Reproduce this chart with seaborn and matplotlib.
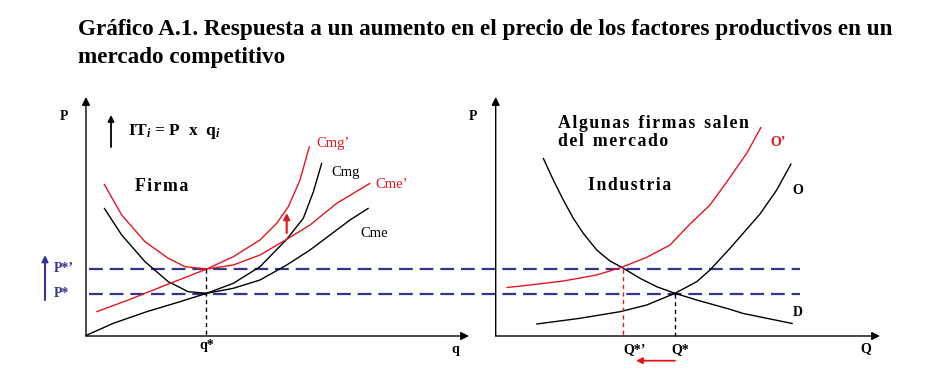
import matplotlib
matplotlib.use("Agg")
import matplotlib.pyplot as plt
import seaborn as sns

# curvas (coordenadas de la imagen, y hacia abajo)
# panel izquierdo: firma
cme_x = [104.3, 121.7, 145, 168.3, 188.3, 206.7, 233.3, 260, 286.7, 310, 330, 350, 368.3]
cme_y = [208.3, 235, 261.7, 281.7, 291.7, 293.3, 288.3, 280, 265, 250, 235, 220, 208.3]
cmg_x = [86, 113.3, 146.7, 180, 206.7, 233.3, 260, 286.7, 303.3, 313.3, 321.7]
cmg_y = [335.5, 323.3, 311.7, 301.7, 293.3, 283.3, 266.7, 239.3, 218.3, 192, 163.3]
cme2_x = [104.3, 121.7, 145, 168.3, 185, 206.7, 233.3, 260, 286.7, 310, 336.7, 370]
cme2_y = [184.3, 215, 241.7, 258.3, 266.7, 269, 265, 255, 239.3, 225, 203.3, 183.3]
cmg2_x = [96.7, 128.3, 161.7, 206.7, 233.3, 260, 276.7, 288.3, 295.7, 300, 309.3]
cmg2_y = [311.7, 300, 286.7, 269, 256.7, 240, 223.3, 206.7, 190, 180, 146.7]

# panel derecho: industria
d_x = [543.3, 553.3, 563.3, 573.3, 583.3, 596.7, 610, 621.7, 640, 656.7, 675, 696.7, 730, 743.3, 792.3]
d_y = [158.3, 180, 200, 218.3, 233.3, 250, 261, 267.3, 278.3, 286.7, 293.3, 300, 309.3, 313.5, 323.5]
o_x = [536.7, 580, 620, 646.7, 675, 696.7, 710, 730, 760, 776.7, 791]
o_y = [324, 318.3, 311.7, 305, 293.3, 281.7, 270, 248.3, 214, 190, 164]
o2_x = [507, 530, 563.3, 596.7, 621.7, 646.7, 670, 690, 710, 726.7, 746.7, 761]
o2_y = [287.5, 285, 281, 275, 267.3, 257.3, 245, 224, 205, 182, 153.3, 127.3]

# precios y cantidades de equilibrio
p_star = 293.6
p_star2 = 268.8
q_star = 206.5
Q_star = 675.3
Q_star2 = 623

RED = "#E3161E"
NAVY = "#35358F"

sns.set_theme(style="white")
plt.rcParams["font.family"] = ["Liberation Serif", "DejaVu Serif"]
plt.rcParams["text.color"] = "black"
plt.rcParams["mathtext.fontset"] = "custom"
plt.rcParams["mathtext.rm"] = "Liberation Serif:bold"
plt.rcParams["mathtext.it"] = "Liberation Serif:italic:bold"

fig = plt.figure(figsize=(9.29, 3.82), dpi=100)
ax = fig.add_axes([0, 0, 1, 1])
ax.set_xlim(0, 929)
ax.set_ylim(382, 0)
ax.axis("off")

# líneas de precio
for p in [p_star2, p_star]:
    ax.plot([89, 800], [p, p], color=NAVY, lw=1.6, ls=(0, (6.2, 3.1)))

# ejes
def arrow(x0, y0, x1, y1, color="black", lw=1.0, ms=12):
    ax.annotate("", xy=(x1, y1), xytext=(x0, y0),
                arrowprops=dict(arrowstyle="-|>", color=color, lw=lw,
                                mutation_scale=ms, shrinkA=0, shrinkB=0))

arrow(86, 336, 86, 97)
arrow(86, 336, 469, 336)
arrow(495.7, 336, 495.7, 97)
arrow(495.7, 336, 880, 336)

# curvas
for cx, cy, col in [(cme_x, cme_y, "black"), (cmg_x, cmg_y, "black"),
                    (cme2_x, cme2_y, RED), (cmg2_x, cmg2_y, RED),
                    (d_x, d_y, "black"), (o_x, o_y, "black"), (o2_x, o2_y, RED)]:
    sns.lineplot(x=cx, y=cy, sort=False, estimator=None, color=col, lw=1.0, ax=ax)

# guías verticales
ax.plot([q_star, q_star], [p_star2, 336], color="black", lw=1.0, ls=(0, (3, 2.5)))
ax.plot([Q_star, Q_star], [p_star, 336], color="black", lw=1.0, ls=(0, (3, 2.5)))
ax.plot([Q_star2, Q_star2], [p_star2, 336], color=RED, lw=1.0, ls=(0, (3, 2.5)))

# flechas pequeñas
arrow(111, 147, 111, 115, lw=1.3, ms=9)
arrow(45, 300, 45, 255, color=NAVY, lw=1.5, ms=9)
arrow(286.7, 233, 286.7, 213, color=RED, lw=1.5, ms=9)
arrow(675, 360.7, 636, 360.7, color=RED, lw=1.3, ms=9)

# textos
ax.text(78, 30, "Gráfico A.1. Respuesta a un aumento en el precio de los factores productivos en un",
        fontsize=16.7, fontweight="bold", va="center", ha="left")
ax.text(78, 57, "mercado competitivo", fontsize=16.7, fontweight="bold", va="center", ha="left")

small = dict(fontsize=10, fontweight="bold", va="center")
ax.text(63.5, 117, "P", ha="center", **small)
ax.text(455, 350, "q", ha="center", **small)
ax.text(206.5, 345, "q*", ha="center", **small)
ax.text(473.3, 117, "P", ha="center", **small)
ax.text(866, 348.5, "Q", ha="center", **small)
ax.text(623.3, 349.3, "Q*\u2019", ha="left", **small)
ax.text(671.7, 349.3, "Q*", ha="left", **small)
ax.text(792.3, 190, "O", ha="left", **small)
ax.text(792.3, 312.7, "D", ha="left", **small)
ax.text(770, 142.3, "O\u2019", ha="left", color=RED, **small)
ax.text(53.3, 268.3, "P*\u2019", ha="left", color=NAVY, **small)
ax.text(53.3, 293.3, "P*", ha="left", color=NAVY, **small)

ax.text(128, 131.7, r"IT$_{\it i}$ = P  x  q$_{\it i}$", fontsize=12.5,
        fontweight="bold", va="center", ha="left")

ax.text(316, 143.3, "Cmg\u2019", color=RED, fontsize=10.5, va="center", ha="left")
ax.text(331.7, 172.7, "Cmg", color="black", fontsize=10.5, va="center", ha="left")
ax.text(375, 184.7, "Cme\u2019", color=RED, fontsize=10.5, va="center", ha="left")
ax.text(360, 233.7, "Cme", color="black", fontsize=10.5, va="center", ha="left")


def spaced(s):
    # separación entre letras como en el original
    return "\u200a".join(s)


big = dict(fontsize=12.8, fontweight="bold", va="center", ha="left")
ax.text(135, 186.7, spaced("Firma"), **big)
ax.text(588.3, 186, spaced("Industria"), **big)
ax.text(557.7, 123.3, "  ".join(spaced(w) for w in ["Algunas", "firmas", "salen"]), **big)
ax.text(557.7, 141.7, "  ".join(spaced(w) for w in ["del", "mercado"]), **big)

fig.savefig("out.png", dpi=100, facecolor="white")
